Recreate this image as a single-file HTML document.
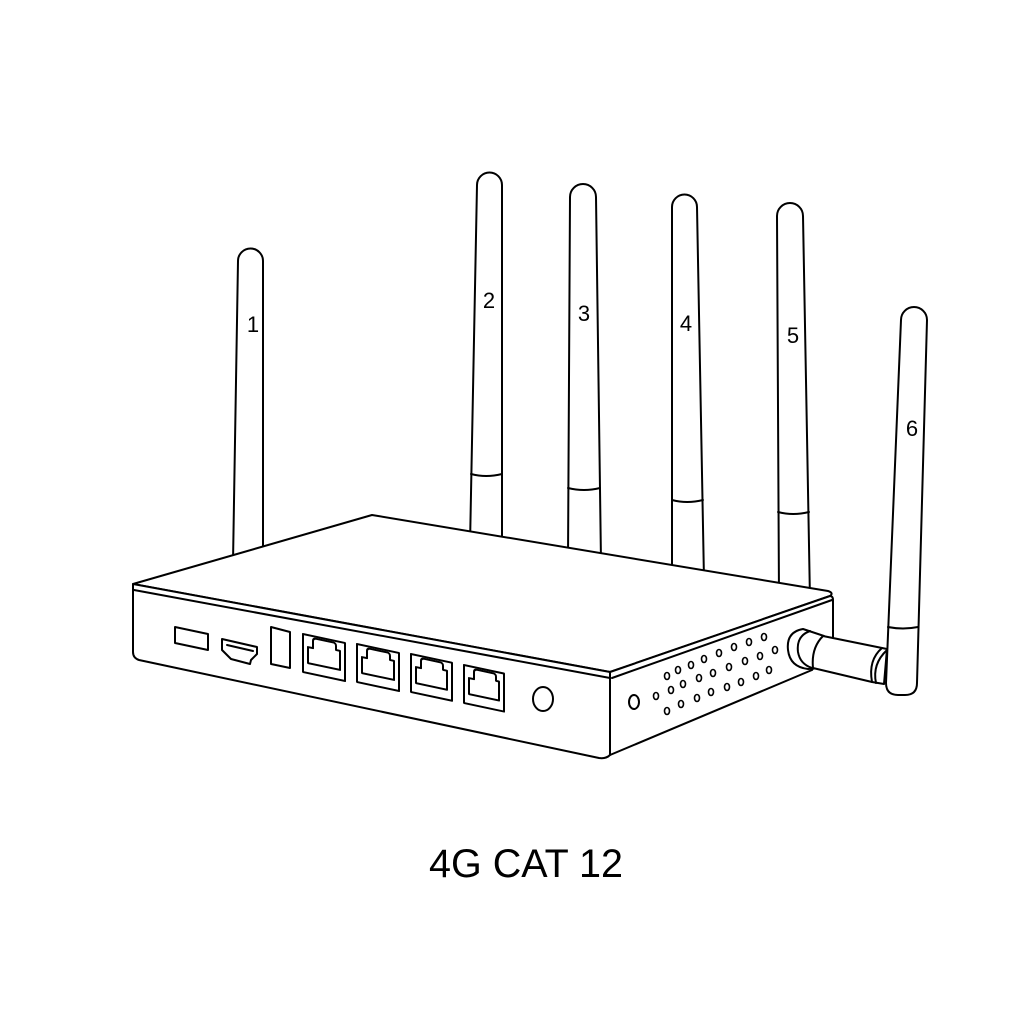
<!DOCTYPE html>
<html><head><meta charset="utf-8"><style>html,body{margin:0;padding:0;background:#fff}svg{display:block}</style></head>
<body>
<svg width="1024" height="1024" viewBox="0 0 1024 1024" xmlns="http://www.w3.org/2000/svg">
<rect width="1024" height="1024" fill="#fff"/>
<g fill="#fff" stroke="#000" stroke-width="2" stroke-linejoin="round" stroke-linecap="round">
  <!-- antennas behind box -->
  <path d="M233,562 L238,261 A12.5,12.5 0 0 1 263,261 L263,562"/>
  <path d="M470,545 L477,185 A12.5,12.5 0 0 1 502,185 L502,545"/>
  <path d="M471,474 Q486,478 502,474" fill="none"/>
  <path d="M568,560 L570,197 A13,13 0 0 1 596,197 L601,562"/>
  <path d="M568,488 Q584,492 600,488" fill="none"/>
  <path d="M672,578 L672,207 A12.5,12.5 0 0 1 697,207 L704,580"/>
  <path d="M672,500 Q687,504 703,500" fill="none"/>
  <path d="M779,598 L777,216 A13,13 0 0 1 803,216 L810,600"/>
  <path d="M778,512 Q793,516 809,512" fill="none"/>

  <!-- box -->
  <path d="M133,584 L372,515 L828,591 Q834,593 830,596 L610,672 Z"/>
  <path d="M133,584 L610,672 L610,755 Q606,759 599,758 L139,660 Q133,658 133,652 Z"/>
  <path d="M610,672 L830,596 Q833,596 833,600 L833,640 L812,670 L610,755 Z"/>
  <path d="M134,590 L610,678" fill="none"/>
  <path d="M612,678 L832,600" fill="none"/>

  <!-- front ports -->
  <path d="M175,627 L208,634 L208,650 L175,643 Z"/>
  <path d="M222,639 L257,647 L257,654 L251,660 L250,664 L231,659 L222,650 Z"/>
  <path d="M227,645 L253,651" fill="none"/>
  <path d="M271,627 L290,632 L290,668 L271,664 Z"/>

  <g transform="matrix(1,0.214,0,1,303,634)">
    <rect x="0" y="0" width="42" height="38"/>
    <path d="M5,28 L5,12 L10,12 L10,5 Q10,2 13,2 L30,2 Q33,2 33,5 L33,9 L37,9 L37,28 Z"/>
  </g>
  <g transform="matrix(1,0.214,0,1,357,644)">
    <rect x="0" y="0" width="42" height="38"/>
    <path d="M5,28 L5,12 L10,12 L10,5 Q10,2 13,2 L30,2 Q33,2 33,5 L33,9 L37,9 L37,28 Z"/>
  </g>
  <g transform="matrix(1,0.214,0,1,411,654)">
    <rect x="0" y="0" width="41" height="38"/>
    <path d="M5,28 L5,12 L10,12 L10,5 Q10,2 13,2 L29,2 Q32,2 32,5 L32,9 L36,9 L36,28 Z"/>
  </g>
  <g transform="matrix(1,0.214,0,1,464,665)">
    <rect x="0" y="0" width="40" height="38"/>
    <path d="M5,28 L5,12 L10,12 L10,5 Q10,2 13,2 L29,2 Q32,2 32,5 L32,9 L35,9 L35,28 Z"/>
  </g>
  <ellipse cx="543" cy="699" rx="10" ry="12"/>

  <!-- side -->
  <ellipse cx="634" cy="702" rx="5" ry="7"/>
  <g stroke-width="1.6">
    <ellipse cx="764" cy="637" rx="2.5" ry="3.5"/>
    <ellipse cx="749" cy="642" rx="2.5" ry="3.5"/>
    <ellipse cx="734" cy="647" rx="2.5" ry="3.5"/>
    <ellipse cx="719" cy="653" rx="2.5" ry="3.5"/>
    <ellipse cx="704" cy="659" rx="2.5" ry="3.5"/>
    <ellipse cx="691" cy="665" rx="2.5" ry="3.5"/>
    <ellipse cx="678" cy="670" rx="2.5" ry="3.5"/>
    <ellipse cx="667" cy="676" rx="2.5" ry="3.5"/>
    <ellipse cx="775" cy="650" rx="2.5" ry="3.5"/>
    <ellipse cx="760" cy="656" rx="2.5" ry="3.5"/>
    <ellipse cx="745" cy="661" rx="2.5" ry="3.5"/>
    <ellipse cx="729" cy="667" rx="2.5" ry="3.5"/>
    <ellipse cx="713" cy="673" rx="2.5" ry="3.5"/>
    <ellipse cx="699" cy="678" rx="2.5" ry="3.5"/>
    <ellipse cx="683" cy="684" rx="2.5" ry="3.5"/>
    <ellipse cx="671" cy="690" rx="2.5" ry="3.5"/>
    <ellipse cx="656" cy="696" rx="2.5" ry="3.5"/>
    <ellipse cx="769" cy="670" rx="2.5" ry="3.5"/>
    <ellipse cx="756" cy="676" rx="2.5" ry="3.5"/>
    <ellipse cx="741" cy="682" rx="2.5" ry="3.5"/>
    <ellipse cx="727" cy="687" rx="2.5" ry="3.5"/>
    <ellipse cx="711" cy="692" rx="2.5" ry="3.5"/>
    <ellipse cx="697" cy="698" rx="2.5" ry="3.5"/>
    <ellipse cx="681" cy="704" rx="2.5" ry="3.5"/>
    <ellipse cx="667" cy="711" rx="2.5" ry="3.5"/>
  </g>

  <!-- connector -->
  <path d="M803,629 L824,636 L820,668 L808,669 Q790,667 788,650 Q786,632 803,629 Z"/>
  <path d="M810,631 Q796,636 798,652 Q800,664 812,668" fill="none"/>
  <path d="M823,636 L887,649 L884,684 L872,682 L813,668 Q811,648 823,636 Z"/>
  <path d="M882,648 Q868,660 872,682" fill="none"/>
  <path d="M887,650 Q872,664 876,683" fill="none"/>

  <!-- antenna 6 -->
  <path d="M886,683 L901,320 A13,13 0 0 1 927,320 L917,683 Q917,695 905,695 L898,695 Q886,695 886,683 Z"/>
  <path d="M888,627 Q903,630 918,627" fill="none"/>
</g>

<g font-family="Liberation Sans, Arial, sans-serif" font-size="22" fill="#000" text-anchor="middle">
  <text x="253" y="332">1</text>
  <text x="489" y="308">2</text>
  <text x="584" y="321">3</text>
  <text x="686" y="331">4</text>
  <text x="793" y="343">5</text>
  <text x="912" y="436">6</text>
</g>
<text x="526" y="877" font-family="Liberation Sans, Arial, sans-serif" font-size="40" fill="#000" text-anchor="middle" textLength="194" lengthAdjust="spacingAndGlyphs">4G CAT 12</text>
</svg>
</body></html>
